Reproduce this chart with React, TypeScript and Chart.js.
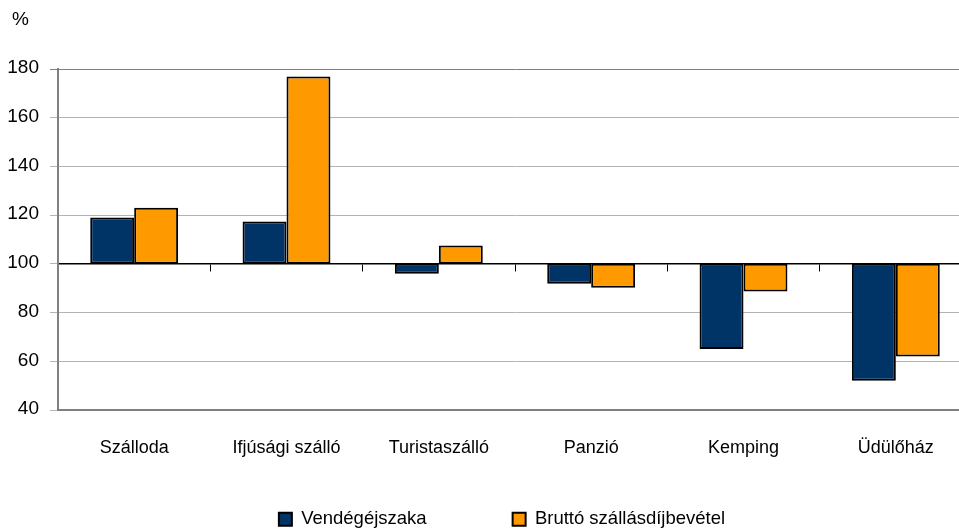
import React, { useEffect, useRef } from 'react';
import { Chart, registerables } from 'chart.js';

Chart.register(...registerables);

const categories = ['Szálloda', 'Ifjúsági szálló', 'Turistaszálló', 'Panzió', 'Kemping', 'Üdülőház'];
const guestNights = [119, 117.4, 95.9, 91.8, 65, 52];
const grossRevenue = [123, 176.9, 107.5, 90.2, 88.7, 62];
const seriesNames = ['Vendégéjszaka', 'Bruttó szállásdíjbevétel'];
const seriesColors = ['#003366', '#FF9900'];
const baseValue = 100;
const yMin = 40;
const yMax = 180;
const yStep = 20;
const unitLabel = '%';

const FONT = "'Liberation Sans', Arial, sans-serif";
const LEGEND_PAD = 86;

const legendPlacement = {
  id: 'legendPlacement',
  afterLayout(chart: any) {
    const lg = chart.legend;
    if (!lg) return;
    lg.top -= 58;
    lg.left += 16;
    lg.right += 16;
  },
};

const unitLabelPlugin = {
  id: 'unitLabelPlugin',
  afterDraw(chart: any) {
    const ctx = chart.ctx;
    ctx.save();
    ctx.font = `19px ${FONT}`;
    ctx.fillStyle = '#000000';
    ctx.textAlign = 'left';
    ctx.textBaseline = 'middle';
    ctx.fillText(unitLabel, 12, 20);
    ctx.restore();
  },
};

export default function App() {
  const canvasRef = useRef<HTMLCanvasElement | null>(null);

  useEffect(() => {
    const canvas = canvasRef.current;
    if (!canvas) return;
    const chart = new Chart(canvas, {
      type: 'bar',
      data: {
        labels: categories,
        datasets: [
          {
            label: seriesNames[0],
            data: guestNights.map((v) => [baseValue, v]) as any,
            backgroundColor: seriesColors[0],
            borderColor: '#000000',
            borderWidth: 2,
            borderSkipped: false,
          },
          {
            label: seriesNames[1],
            data: grossRevenue.map((v) => [baseValue, v]) as any,
            backgroundColor: seriesColors[1],
            borderColor: '#000000',
            borderWidth: 2,
            borderSkipped: false,
          },
        ],
      },
      options: {
        animation: false,
        responsive: false,
        devicePixelRatio: 1,
        layout: { padding: { left: 0, right: 0, top: 69, bottom: 0 } },
        datasets: {
          bar: { categoryPercentage: 0.577, barPercentage: 1 },
        },
        scales: {
          x: {
            type: 'category',
            position: 'bottom',
            grid: { display: false, drawTicks: false },
            border: { display: true, color: '#808080', width: 2 },
            ticks: {
              color: '#000000',
              font: { family: FONT, size: 18 },
              padding: 27,
              maxRotation: 0,
              autoSkip: false,
            },
            afterFit: (scale: any) => {
              scale.height = 72;
            },
          },
          x2: {
            type: 'category',
            axis: 'x',
            position: { y: baseValue } as any,
            offset: true,
            grid: {
              display: true,
              offset: true,
              drawOnChartArea: false,
              drawTicks: true,
              tickLength: 7,
              color: '#000000',
              lineWidth: 1,
            },
            border: { display: true, color: '#000000', width: 1.5 },
            ticks: { display: false },
          } as any,
          y: {
            type: 'linear',
            min: yMin,
            max: yMax,
            ticks: {
              stepSize: yStep,
              color: '#000000',
              font: { family: FONT, size: 19 },
              padding: 11,
              labelOffset: -1,
            },
            grid: {
              color: (ctx: any) => (ctx.tick && ctx.tick.value === yMax ? '#7f7f7f' : '#b3b3b3'),
              lineWidth: 1,
              tickLength: 8,
            },
            border: { display: true, color: '#808080', width: 2 },
            afterFit: (scale: any) => {
              scale.width = 58;
            },
          },
        },
        plugins: {
          title: { display: false },
          legend: {
            display: true,
            position: 'bottom',
            maxHeight: 50,
            labels: {
              color: '#000000',
              font: { family: FONT, size: 18.5 },
              boxWidth: 13,
              boxHeight: 13,
              padding: LEGEND_PAD,
            },
          },
          tooltip: { enabled: false },
        },
      } as any,
      plugins: [legendPlacement, unitLabelPlugin],
    });
    return () => chart.destroy();
  }, []);

  return (
    <div
      style={{
        position: 'fixed',
        left: 0,
        top: 0,
        width: 959,
        height: 532,
        overflow: 'hidden',
        background: '#ffffff',
      }}
    >
      <canvas ref={canvasRef} width={972} height={532} style={{ display: 'block' }} />
    </div>
  );
}
